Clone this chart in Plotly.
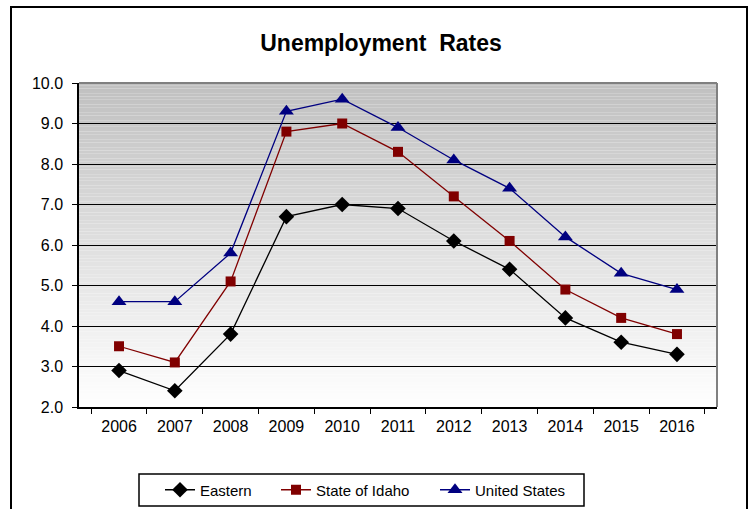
import plotly.graph_objects as go

years = ["2006", "2007", "2008", "2009", "2010", "2011", "2012", "2013", "2014", "2015", "2016"]
eastern = [2.9, 2.4, 3.8, 6.7, 7.0, 6.9, 6.1, 5.4, 4.2, 3.6, 3.3]
idaho = [3.5, 3.1, 5.1, 8.8, 9.0, 8.3, 7.2, 6.1, 4.9, 4.2, 3.8]
us = [4.6, 4.6, 5.8, 9.3, 9.6, 8.9, 8.1, 7.4, 6.2, 5.3, 4.9]
y_ticks = [2, 3, 4, 5, 6, 7, 8, 9, 10]

PL, PR, PT, PB = 79, 717, 83, 407
PW, PH = PR - PL, PB - PT


def px(x):
    return (x - PL) / PW


def py(y):
    return (PB - y) / PH


fig = go.Figure()
fig.add_trace(go.Scatter(x=years, y=eastern, name="Eastern", mode="lines+markers",
                         line=dict(color="black", width=1.3), legend="legend",
                         marker=dict(symbol="diamond", size=12, color="black")))
fig.add_trace(go.Scatter(x=years, y=idaho, name="State of Idaho", mode="lines+markers",
                         line=dict(color="#800000", width=1.3), legend="legend2",
                         marker=dict(symbol="square", size=10, color="#800000")))
fig.add_trace(go.Scatter(x=years, y=us, name="United States", mode="lines+markers",
                         line=dict(color="#000080", width=1.3), legend="legend3",
                         marker=dict(symbol="triangle-up", size=13, color="#000080")))

shapes = []
n = 120
for i in range(n):
    t = i / (n - 1)
    c = int(round(255 - (255 - 192) * t))
    shapes.append(dict(type="rect", xref="x domain", yref="y domain",
                       x0=0, x1=1, y0=i / n, y1=(i + 1) / n,
                       fillcolor=f"rgb({c},{c},{c})", line=dict(width=0), layer="below"))
shapes.append(dict(type="line", xref="x domain", yref="y domain", x0=0, x1=1, y0=1, y1=1,
                   line=dict(color="#808080", width=2)))
shapes.append(dict(type="line", xref="x domain", yref="y domain", x0=1, x1=1, y0=0, y1=1,
                   line=dict(color="#808080", width=2)))
# outer chart frame
shapes.append(dict(type="rect", xref="paper", yref="paper",
                   x0=px(11), x1=px(747), y0=py(530), y1=py(7),
                   line=dict(color="black", width=2), fillcolor="rgba(0,0,0,0)"))
# legend box
shapes.append(dict(type="rect", xref="paper", yref="paper",
                   x0=px(139), x1=px(584), y0=py(506), y1=py(474),
                   line=dict(color="black", width=1.5), fillcolor="white", layer="below"))

leg_common = dict(orientation="h", xanchor="left", yanchor="middle", y=py(490),
                  bgcolor="rgba(0,0,0,0)", borderwidth=0, font=dict(size=15),
                  itemwidth=30)

fig.update_layout(
    width=752, height=509,
    margin=dict(l=PL, r=752 - PR, t=PT, b=509 - PB, autoexpand=False),
    paper_bgcolor="white", plot_bgcolor="white",
    font=dict(family="Liberation Sans, Arial, sans-serif", size=16, color="black"),
    title=dict(text="<b>Unemployment  Rates</b>", x=381 / 752, xanchor="center",
               y=1 - 43 / 509, yanchor="middle", font=dict(size=23, color="black")),
    shapes=shapes,
    showlegend=True,
    legend=dict(x=px(162 - 2), **leg_common),
    legend2=dict(x=px(278 - 2), **leg_common),
    legend3=dict(x=px(437 - 2), **leg_common),
)
fig.update_xaxes(type="category", showline=True, linecolor="black", linewidth=1.5,
                 ticks="outside", tickson="boundaries", ticklen=5, tickcolor="black",
                 showgrid=False, tickfont=dict(size=16), ticklabelstandoff=4)
fig.update_yaxes(range=[2, 10], tickvals=y_ticks, tickformat=".1f",
                 showline=True, linecolor="black", linewidth=1.5,
                 ticks="outside", ticklen=5, tickcolor="black",
                 showgrid=True, gridcolor="black", gridwidth=1.2,
                 zeroline=False, tickfont=dict(size=16), ticklabelstandoff=6)

fig.write_html("out.html", config={"displayModeBar": False},
               post_script="document.body.style.margin='0px';document.body.style.padding='0px';")
